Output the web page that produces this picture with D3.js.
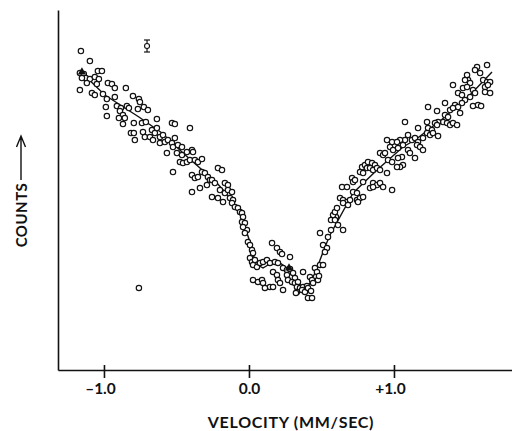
<!DOCTYPE html>
<html>
<head>
<meta charset="utf-8">
<script src="https://cdn.jsdelivr.net/npm/d3@7"></script>
<style>
  body { margin: 0; background: #fff; }
  .lbl { font-family: Lato, "Open Sans", sans-serif; font-weight: 700; fill: #111; }
</style>
</head>
<body>
<svg class="canvas" width="512" height="431"></svg>
<script>
// velocity (mm/sec), counts (arbitrary units)
var points = [
  [-1.159,319],[-1.097,309],[-1.042,299],[-1.014,299],[-1.166,297],[-1.139,296],[-1.125,292],[-1.152,292],
  [-1.166,280],[-1.097,291],[-1.063,293],[-1.035,291],[-1.118,287],[-1.049,286],[-0.973,287],[-0.945,286],
  [-0.925,282],[-0.849,282],[-1.083,277],[-1.063,275],[-1.007,276],[-0.980,271],[-0.925,273],[-0.800,274],
  [-0.759,271],[-0.752,268],[-0.987,263],[-0.911,264],[-0.883,262],[-0.842,264],[-0.828,262],[-0.725,263],
  [-0.697,260],[-0.980,254],[-0.890,259],[-0.869,255],[-0.766,261],[-0.897,252],[-0.856,252],[-0.869,246],
  [-0.814,237],[-0.794,237],[-0.787,230],[-0.731,238],[-0.738,247],[-0.711,248],[-0.794,247],[-0.718,233],
  [-0.635,251],[-0.531,247],[-0.511,246],[-0.407,242],[-0.669,240],[-0.649,237],[-0.635,242],[-0.683,233],
  [-0.662,230],[-0.614,233],[-0.593,235],[-0.614,227],[-0.580,228],[-0.559,230],[-0.531,227],[-0.524,223],
  [-0.490,225],[-0.462,223],[-0.566,217],[-0.497,217],[-0.462,215],[-0.428,218],[-0.393,220],[-0.386,218],
  [-0.476,208],[-0.455,207],[-0.428,208],[-0.407,210],[-0.373,210],[-0.352,208],[-0.324,211],[-0.524,198],
  [-0.393,195],[-0.373,192],[-0.352,193],[-0.324,198],[-0.304,197],[-0.283,193],[-0.269,190],[-0.214,202],
  [-0.186,200],[-0.338,182],[-0.290,185],[-0.255,190],[-0.235,187],[-0.166,187],[-0.145,185],[-0.200,180],
  [-0.166,177],[-0.145,180],[-0.117,178],[-0.393,178],[-0.255,173],[-0.214,172],[-0.179,168],[-0.131,172],
  [-0.110,170],[-0.117,167],[-0.097,163],[-0.076,162],[-0.062,158],[-0.511,232],
  [-0.048,157],[-0.041,153],[-0.048,148],[-0.028,147],[-0.014,140],[-0.028,137],[-0.041,143],[-0.007,128],
  [0.007,125],[0.021,120],[0.028,117],[0.007,112],[0.021,108],[0.041,110],[0.028,105],[0.055,103],
  [0.076,107],[0.097,108],[0.124,110],[0.145,107],[0.159,127],[0.193,122],[0.214,118],[0.228,116],
  [0.283,113],[0.179,108],[0.200,107],[0.166,98],[0.193,95],[0.235,102],[0.262,100],[0.283,101],
  [0.028,90],[0.062,88],[0.090,90],[0.097,87],[0.145,83],[0.166,83],[0.110,82],[0.200,90],
  [0.214,87],[0.235,80],[0.262,95],[0.269,90],[0.304,97],[0.317,92],[0.297,88],[0.317,87],
  [0.338,88],[0.373,98],[0.331,83],[0.352,82],[0.373,83],[0.400,84],[0.331,78],[0.366,80],
  [0.386,78],[0.407,82],[0.407,72],[0.435,72],[0.421,93],[0.435,90],[0.442,87],[0.455,102],
  [0.469,98],[0.476,90],[0.490,137],[0.511,125],[0.538,122],[0.545,133],[0.524,118],[0.490,105],
  [0.511,105],[0.483,94],[0.428,79],[0.324,77],[0.566,140],
  [0.614,145],[0.649,140],[0.600,153],[0.580,155],[0.566,150],[0.593,158],[0.607,162],[0.593,150],
  [0.628,172],[0.649,170],[0.676,168],[0.697,170],[0.649,167],[0.683,165],[0.642,183],[0.676,183],
  [0.711,192],[0.718,188],[0.731,190],[0.718,178],[0.745,177],[0.745,170],[0.766,172],[0.787,173],
  [0.752,168],[0.766,198],[0.787,197],[0.780,203],[0.800,205],[0.814,202],[0.821,208],[0.849,207],
  [0.869,205],[0.835,202],[0.856,200],[0.883,202],[0.904,200],[0.952,197],[0.787,188],[0.856,187],
  [0.883,185],[0.904,187],[0.835,182],[0.856,183],[0.925,183],[0.987,180],[0.904,217],[0.925,215],
  [0.938,217],[0.959,210],[0.987,208],[0.952,230],[0.987,228],[0.973,223],[0.994,220],
  [1.642,305],[1.573,303],[1.559,300],[1.594,297],[1.504,295],[1.511,290],[1.490,290],[1.615,290],
  [1.642,288],[1.663,288],[1.525,287],[1.628,283],[1.648,285],[1.407,285],[1.476,282],[1.504,283],
  [1.442,277],[1.469,275],[1.545,280],[1.559,277],[1.628,278],[1.663,277],[1.525,273],[1.490,270],
  [1.469,267],[1.421,265],[1.442,263],[1.352,267],[1.235,263],[1.297,259],[1.545,264],[1.580,265],
  [1.601,264],[1.387,260],[1.407,262],[1.456,257],[1.352,255],[1.373,253],[1.339,248],[1.366,247],
  [1.304,248],[1.283,247],[1.297,245],[1.387,245],[1.407,247],[1.435,245],[1.228,248],[1.076,248],
  [1.166,242],[1.235,242],[1.262,240],[1.228,237],[1.249,235],[1.269,237],[1.304,234],[1.200,232],
  [1.097,235],[1.076,230],[1.042,230],[1.021,228],[1.124,230],[1.145,232],[1.166,228],[1.159,225],
  [1.180,223],[1.200,220],[1.062,225],[1.028,222],[1.097,220],[1.110,217],[1.055,213],[1.028,212],
  [1.145,212],[1.062,205],[1.042,203],[1.021,203],
  [-0.759,82]
];

// fitted curve
var fit = [
  [-1.166,299],[-0.994,275],[-0.759,253],[-0.600,237],[-0.455,217],[-0.221,187],[-0.117,170],[-0.062,156],
  [-0.028,143],[0.007,128],[0.028,115],[0.062,105],[0.097,102],[0.131,105],[0.166,108],[0.214,107],
  [0.262,102],[0.297,97],[0.331,88],[0.373,83],[0.421,87],[0.455,97],[0.490,110],[0.524,123],
  [0.559,135],[0.718,177],[0.883,200],[1.062,223],[1.145,230],[1.352,253],[1.538,277],[1.676,298]
];

var markers = [[-1.152,298],[0.276,102]];
var errBar = { v: -0.703, c: 324, err: 6 };

var xTicks = [-1, 0, 1];
var xTickLabels = ["\u20131.0", "0.0", "+1.0"];

var x = d3.scaleLinear().domain([-1.317, 1.814]).range([58, 512]);
var y = d3.scaleLinear().domain([0, 360]).range([370, 10]);

var canvas = d3.select(".canvas");

// y axis: plain line
canvas.append("g")
  .attr("transform", "translate(58,0)")
  .call(d3.axisLeft(y).tickValues([]).tickSizeOuter(0))
  .select(".domain")
  .attr("stroke", "#111")
  .attr("stroke-width", 1.6);

var xAxis = canvas.append("g")
  .attr("transform", "translate(0,370)")
  .call(d3.axisBottom(x).tickValues(xTicks).tickSize(8).tickSizeOuter(0)
    .tickFormat(function(d, i) { return xTickLabels[i]; }));

xAxis.select(".domain").attr("stroke", "#111").attr("stroke-width", 1.6);
xAxis.selectAll(".tick line")
  .attr("y1", -5)
  .attr("stroke", "#111")
  .attr("stroke-width", 1.6);
xAxis.selectAll(".tick text")
  .attr("class", "lbl")
  .attr("y", 24)
  .attr("dy", 0)
  .attr("dx", function(d) { return d === 0 ? 0 : -4; })
  .style("font-size", "15.5px")
  .style("font-family", "Lato, sans-serif")
  .style("font-weight", 700);

canvas.append("text")
  .attr("class", "lbl")
  .attr("x", 291)
  .attr("y", 428)
  .attr("text-anchor", "middle")
  .style("font-size", "16px")
  .style("letter-spacing", "0.7px")
  .text("VELOCITY (MM/SEC)");

canvas.append("text")
  .attr("class", "lbl")
  .attr("transform", "translate(27,215) rotate(-90)")
  .attr("text-anchor", "middle")
  .style("font-size", "15px")
  .style("letter-spacing", "0.5px")
  .text("COUNTS");

// arrow next to COUNTS
canvas.append("path")
  .attr("d", "M21,180 L21,136 M16.5,147 L21,136 L25.5,147")
  .attr("fill", "none")
  .attr("stroke", "#111")
  .attr("stroke-width", 1.4);

var line = d3.line()
  .x(function(d) { return x(d[0]); })
  .y(function(d) { return y(d[1]); });

canvas.append("path")
  .datum(fit)
  .attr("d", line)
  .attr("fill", "none")
  .attr("stroke", "#111")
  .attr("stroke-width", 1.4);

canvas.selectAll("circle.pt")
  .data(points)
  .enter()
  .append("circle")
  .attr("class", "pt")
  .attr("cx", function(d) { return x(d[0]); })
  .attr("cy", function(d) { return y(d[1]); })
  .attr("r", 2.7)
  .attr("fill", "#fff")
  .attr("stroke", "#111")
  .attr("stroke-width", 1.15);

canvas.selectAll("path.mk")
  .data(markers)
  .enter()
  .append("path")
  .attr("class", "mk")
  .attr("d", d3.symbol(d3.symbolTriangle).size(30))
  .attr("transform", function(d) { return "translate(" + x(d[0]) + "," + y(d[1]) + ")"; })
  .attr("fill", "#111");

// representative error bar
var eb = canvas.append("g");
eb.append("line")
  .attr("x1", x(errBar.v)).attr("x2", x(errBar.v))
  .attr("y1", y(errBar.c + errBar.err)).attr("y2", y(errBar.c - errBar.err))
  .attr("stroke", "#111").attr("stroke-width", 1.2);
[errBar.c + errBar.err, errBar.c - errBar.err].forEach(function(c) {
  eb.append("line")
    .attr("x1", x(errBar.v) - 3).attr("x2", x(errBar.v) + 3)
    .attr("y1", y(c)).attr("y2", y(c))
    .attr("stroke", "#111").attr("stroke-width", 1.2);
});
eb.append("circle")
  .attr("cx", x(errBar.v)).attr("cy", y(errBar.c))
  .attr("r", 2.5)
  .attr("fill", "#fff")
  .attr("stroke", "#111")
  .attr("stroke-width", 1.1);
</script>
</body>
</html>
